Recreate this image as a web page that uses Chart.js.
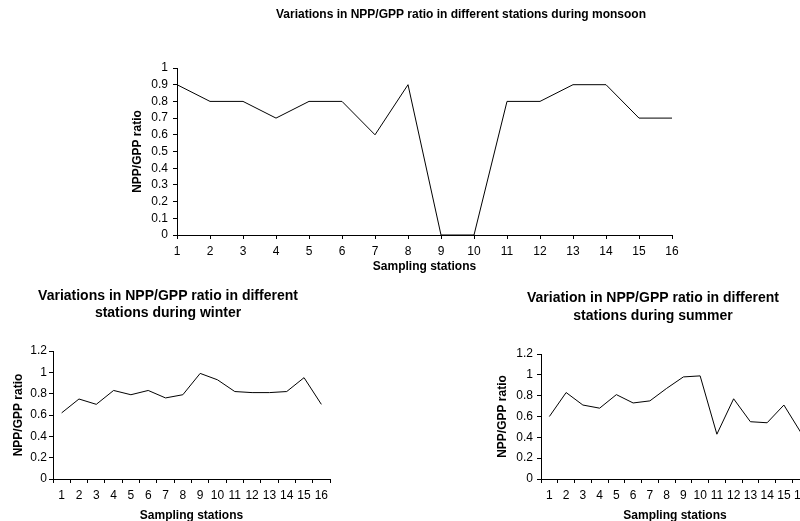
<!DOCTYPE html>
<html>
<head>
<meta charset="utf-8">
<script src="https://cdn.jsdelivr.net/npm/chart.js@4"></script>
<style>
  html, body { margin: 0; padding: 0; background: #fff; width: 800px; height: 521px; overflow: hidden; position: relative; }
  canvas { position: absolute; }
</style>
</head>
<body>
<canvas id="monsoonChart" width="678" height="280" style="left:122px;top:0px"></canvas>
<canvas id="winterChart" width="336" height="525" style="left:0px;top:0px"></canvas>
<canvas id="summerChart" width="366" height="525" style="left:470px;top:0px"></canvas>
<script>
const stations = ["1", "2", "3", "4", "5", "6", "7", "8", "9", "10", "11", "12", "13", "14", "15", "16"];
const monsoon = [0.9, 0.8, 0.8, 0.7, 0.8, 0.8, 0.6, 0.9, 0, 0, 0.8, 0.8, 0.9, 0.9, 0.7, 0.7];
const winter = [0.62, 0.75, 0.70, 0.83, 0.79, 0.83, 0.76, 0.79, 0.99, 0.93, 0.82, 0.81, 0.81, 0.82, 0.95, 0.70];
const summer = [0.60, 0.83, 0.71, 0.68, 0.81, 0.73, 0.75, 0.87, 0.98, 0.99, 0.43, 0.77, 0.55, 0.54, 0.71, 0.45];

const monsoonTicks = { max: 1, step: 0.1 };
const seasonTicks = { max: 1.2, step: 0.2 };

const fontFamily = "'Liberation Sans', Arial, sans-serif";
Chart.defaults.font.family = fontFamily;
Chart.defaults.color = "#000000";

function makeChart(id, values, tickInfo, s) {
    return new Chart(document.getElementById(id), {
        type: "line",
        data: {
            labels: stations,
            datasets: [{
                data: values,
                borderColor: "#000000",
                borderWidth: 1,
                pointRadius: 0,
                tension: 0,
                fill: false
            }]
        },
        options: {
            responsive: false,
            animation: false,
            layout: { padding: { top: s.top, left: 0, right: 0, bottom: 0 } },
            plugins: {
                legend: { display: false },
                tooltip: { enabled: false },
                title: {
                    display: true,
                    text: s.title,
                    color: "#000000",
                    font: { size: s.titleSize, weight: "bold", family: fontFamily, lineHeight: s.titleLine },
                    padding: { top: s.titleTop, bottom: s.titleBottom }
                }
            },
            scales: {
                x: {
                    offset: s.offset,
                    afterFit: function (scale) { scale.height = s.xHeight },
                    grid: { display: true, drawOnChartArea: false, drawTicks: true, tickLength: 4, color: "#000000", offset: s.offset },
                    border: { display: true, color: "#000000", width: 1 },
                    ticks: { font: { size: 12 }, padding: s.xPad, maxRotation: 0, autoSkip: false },
                    title: {
                        display: true,
                        text: "Sampling stations",
                        font: { size: 12, weight: "bold" },
                        padding: { top: 0, bottom: s.xTitleBottom }
                    }
                },
                y: {
                    min: 0,
                    max: tickInfo.max,
                    afterFit: function (scale) { scale.width = s.yWidth },
                    grid: { display: true, drawOnChartArea: false, drawTicks: true, tickLength: 4, color: "#000000" },
                    border: { display: true, color: "#000000", width: 1 },
                    ticks: {
                        stepSize: tickInfo.step,
                        autoSkip: false,
                        font: { size: 12 },
                        padding: s.yPad,
                        callback: function (v) { return Number(v.toFixed(1)).toString() }
                    },
                    title: {
                        display: true,
                        text: "NPP/GPP ratio",
                        font: { size: 12, weight: "bold" },
                        padding: { top: s.yTitleTop, bottom: 0 }
                    }
                },
                // empty space on the right so the title centres like the original
                spare: {
                    type: "linear",
                    position: "right",
                    grid: { display: false, drawTicks: false },
                    border: { display: false },
                    ticks: { display: false },
                    afterFit: function (scale) { scale.width = s.rightGap }
                }
            }
        }
    });
}

makeChart("monsoonChart", monsoon, monsoonTicks, {
    title: "Variations in NPP/GPP ratio in different stations during monsoon",
    titleSize: 12, titleLine: 1.2, titleTop: 7.8, titleBottom: 45.8, top: 0, rightGap: 128,
    offset: false, xHeight: 45, yWidth: 55,
    xPad: 5, yPad: 5, xTitleBottom: 6, yTitleTop: 8
});

makeChart("winterChart", winter, seasonTicks, {
    title: ["Variations in NPP/GPP ratio in different", "stations during winter"],
    titleSize: 14, titleLine: 1.2, titleTop: 7.6, titleBottom: 29.8, top: 280, rightGap: 6,
    offset: true, xHeight: 46, yWidth: 53, 
    xPad: 5, yPad: 2, xTitleBottom: 2.5, yTitleTop: 11
});

makeChart("summerChart", summer, seasonTicks, {
    title: ["Variation in NPP/GPP ratio in different", "stations during summer"],
    titleSize: 14, titleLine: 1.3, titleTop: 9, titleBottom: 28.6, top: 280, rightGap: 27,
    offset: true, xHeight: 46, yWidth: 71,
    xPad: 5, yPad: 4, xTitleBottom: 2.5, yTitleTop: 25
});
</script>
</body>
</html>
